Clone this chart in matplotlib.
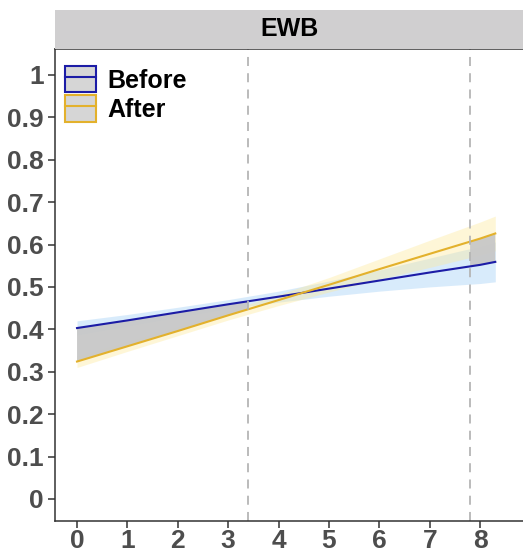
import numpy as np
import matplotlib.pyplot as plt
from matplotlib.patches import Patch, Rectangle
from matplotlib.lines import Line2D

plt.rcParams['font.family'] = ['Liberation Sans', 'DejaVu Sans']

# Значения
x_vals = [0, 1, 2, 3, 4, 5, 6, 7, 8, 8.3]
before_fit = [0.403, 0.421, 0.440, 0.459, 0.477, 0.496, 0.515, 0.534, 0.552, 0.559]
before_se = [0.017, 0.014, 0.012, 0.011, 0.013, 0.018, 0.025, 0.034, 0.044, 0.047]
after_fit = [0.324, 0.360, 0.396, 0.433, 0.469, 0.505, 0.542, 0.578, 0.614, 0.626]
after_se = [0.014, 0.012, 0.011, 0.011, 0.013, 0.017, 0.024, 0.032, 0.039, 0.041]
jn_bounds = [3.39, 7.80]  # границы зон значимости
panel_title = 'EWB'
x_ticks = [0, 1, 2, 3, 4, 5, 6, 7, 8]
y_ticks = [0, 0.1, 0.2, 0.3, 0.4, 0.5, 0.6, 0.7, 0.8, 0.9, 1]
y_tick_labels = ['0', '0.1', '0.2', '0.3', '0.4', '0.5', '0.6', '0.7', '0.8', '0.9', '1']

blue = '#1c1ca6'
gold = '#e3b12c'
grey_fill = '#c8c8c8'
txt_col = '#4d4d4d'

x = np.array(x_vals)
b = np.array(before_fit)
a = np.array(after_fit)
bse = np.array(before_se)
ase = np.array(after_se)

W, H = 523, 549
fig = plt.figure(figsize=(W / 100, H / 100), dpi=100)
ax = fig.add_axes([55 / W, (H - 521) / H, (W - 55) / W, (521 - 49) / H])

ax.fill_between(x, b - bse, b + bse, color='#b3d8f8', alpha=0.5, lw=0)
ax.fill_between(x, a - ase, a + ase, color='#fdea9c', alpha=0.4, lw=0)

# серая заливка между линиями вне зоны незначимости
xx = np.concatenate([x, jn_bounds])
xx.sort()
bb = np.interp(xx, x, b)
aa = np.interp(xx, x, a)
mask = (xx <= jn_bounds[0]) | (xx >= jn_bounds[1])
ax.fill_between(xx, aa, bb, where=mask, color=grey_fill, lw=0, alpha=0.95)

ax.plot(x, b, color=blue, lw=1.5)
ax.plot(x, a, color=gold, lw=1.5)

for v in jn_bounds:
    ax.axvline(v, color='#b5b5b5', ls=(0, (5, 4)), lw=1.3)

ax.set_xlim(-0.437, 8.85)
ax.set_ylim(-0.052, 1.061)
ax.set_xticks(x_ticks)
ax.set_yticks(y_ticks)
ax.set_yticklabels(y_tick_labels)
ax.tick_params(axis='both', colors='#333333', length=5, width=1.1,
               labelsize=19, labelcolor=txt_col, pad=3)
ax.tick_params(axis='x', pad=1)
for lab in ax.get_xticklabels() + ax.get_yticklabels():
    lab.set_fontweight('bold')
for s in ax.spines.values():
    s.set_color('#333333')
    s.set_linewidth(1.1)
ax.spines['right'].set_visible(False)

# полоска с заголовком панели
strip = Rectangle((55 / W, (H - 49) / H), (W - 55) / W, 39 / H,
                  transform=fig.transFigure, facecolor='#d0cfd0',
                  edgecolor='none')
fig.patches.append(strip)
fig.text((55 + W) / 2 / W, (H - 29.5) / H, panel_title, ha='center',
         va='center', fontsize=18, fontweight='bold', color='black')

handles = [(Patch(facecolor='#d6d6d6', edgecolor=blue, lw=1.5),
            Line2D([], [], color=blue, lw=1.5)),
           (Patch(facecolor='#d6d6d6', edgecolor=gold, lw=1.5),
            Line2D([], [], color=gold, lw=1.5))]
leg = ax.legend(handles, ['Before', 'After'], loc='upper left',
                bbox_to_anchor=(10 / 468, 1 - 17 / 472), frameon=False,
                handlelength=1.25, handleheight=1.25, handletextpad=0.45,
                labelspacing=0.1, borderaxespad=0, borderpad=0,
                prop={'weight': 'bold', 'size': 18})

fig.savefig('out.png', dpi=100)
